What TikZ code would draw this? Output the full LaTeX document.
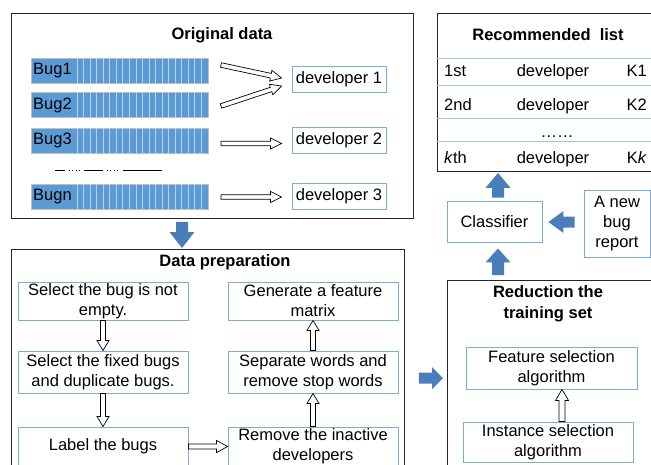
\documentclass[tikz,border=0pt]{standalone}
\usepackage{fontspec}
\setmainfont{Liberation Sans}
\usetikzlibrary{calc}
\definecolor{bugblue}{HTML}{5B9BD5}
\definecolor{stripecol}{HTML}{B8D1EC}
\definecolor{buggrey}{HTML}{BFBFBF}
\definecolor{boxblue}{HTML}{7FAADC}
\definecolor{arrowblue}{HTML}{4A7EBB}
\definecolor{sepblue}{HTML}{9DC3E6}
\definecolor{framecol}{HTML}{262626}
\tikzset{
  every node/.style={font=\fontsize{16.5}{20}\selectfont, inner sep=0pt},
  group/.style={draw=framecol, line width=0.9pt},
  title/.style={font=\fontsize{16.5}{21}\selectfont\bfseries, align=center},
  bbox/.style={draw=boxblue, line width=0.9pt, fill=white, align=center},
  bugcell/.style={draw=buggrey, line width=1pt, fill=bugblue, minimum width=177pt, minimum height=25pt},
  stripe/.style={draw=stripecol, line width=0.9pt},
  harrow/.style n args={3}{to path={
    let \p1=(\tikztostart), \p2=(\tikztotarget),
        \n1={atan2(\y2-(\y1),\x2-(\x1))}, \n2={veclen(\x2-(\x1),\y2-(\y1))}
    in [shift={(\p1)}, rotate=\n1]
    (0pt,-#1pt) -- ({\n2*1pt-#3pt},-#1pt) -- ({\n2*1pt-#3pt},-#2pt) -- ({\n2*1pt},0pt)
    -- ({\n2*1pt-#3pt},#2pt) -- ({\n2*1pt-#3pt},#1pt) -- (0pt,#1pt) -- cycle
  }},
  hollow/.style={draw=black, line width=0.7pt, fill=white},
  blockarrow/.style={fill=arrowblue, draw=none},
}
\begin{document}
\begin{tikzpicture}[x=1pt, y=-1pt]
\useasboundingbox (0,0) rectangle (651,464);

% ---------- Original data ----------
\node[group, minimum width=402pt, minimum height=205pt, anchor=north west] (orig) at (11,13) {};
\node[title] (origtitle) at (222,35) {Original data};
\foreach \n/\yy/\lab in {b1/70.5/Bug1, b2/105/Bug2, b3/140.5/Bug3, b4/196.5/Bugn}{
  \node[bugcell, anchor=west] (\n) at (31,\yy) {};
  \node[anchor=west] (\n l) at ([xshift=2pt]\n.west) {\lab};
  \foreach \k in {0,...,19}{
    \draw[stripe] ($(\n.north west)+(46+\k*6.55,0.5)$) -- ($(\n.south west)+(46+\k*6.55,-0.5)$);
  }
}
% broken line
\draw[line width=0.9pt] (55,170) -- (65,170) (84,170) -- (103,170) (123,170) -- (162,170);
\foreach \xx in {68.5,72,75.5,79,106.5,110,113.5,117}{
  \draw[line width=0.9pt] (\xx,170) -- ++(1,0);
}
\node[bbox, minimum width=94pt, minimum height=26pt] (d1) at (339,79) {developer 1};
\node[bbox, minimum width=94pt, minimum height=26pt] (d2) at (339,140) {developer 2};
\node[bbox, minimum width=94pt, minimum height=26pt] (d3) at (339,196) {developer 3};
\draw[hollow] ($(b1.east)+(12,-5.5)$) to[harrow={2.3}{5.5}{11}] ($(d1.west)+(-10,-1)$);
\draw[hollow] ($(b2.east)+(12,1)$) to[harrow={2.3}{5.5}{11}] ($(d1.west)+(-10,7)$);
\draw[hollow] ($(b3.east)+(12,3)$) to[harrow={2.3}{5.5}{11}] ($(d2.west)+(-10,3.5)$);
\draw[hollow] ($(b4.east)+(12,0.5)$) to[harrow={2.3}{5.5}{11}] ($(d3.west)+(-10,1)$);

% ---------- Data preparation ----------
\node[group, minimum width=393pt, minimum height=240pt, anchor=north west] (prep) at (11,249) {};
\node[title] (preptitle) at (225,262) {Data preparation};
\node[bbox, minimum width=170pt, minimum height=38pt] (p1) at (103,301) {Select the bug is not\\empty.};
\node[bbox, minimum width=170pt, minimum height=42pt] (p2) at (103,372) {Select the fixed bugs\\and duplicate bugs.};
\node[bbox, minimum width=170pt, minimum height=39pt] (p3) at (103,446.5) {Label the bugs};
\node[bbox, minimum width=170pt, minimum height=38pt] (p4) at (313,301) {Generate a feature\\matrix};
\node[bbox, minimum width=170pt, minimum height=42pt] (p5) at (313,372) {Separate words and\\remove stop words};
\node[bbox, minimum width=170pt, minimum height=39pt] (p6) at (313,446.5) {Remove the inactive\\developers};
\draw[hollow] (p1.south) to[harrow={2.5}{6}{10}] (p2.north);
\draw[hollow] (p2.south) to[harrow={2.5}{6}{10}] (p3.north);
\draw[hollow] (p3.east) to[harrow={2.5}{6}{11}] (p6.west);
\draw[hollow] (p6.north) to[harrow={2.5}{6}{10}] (p5.south);
\draw[hollow] (p5.north) to[harrow={2.5}{6}{10}] (p4.south);

% ---------- Recommended list ----------
\node[group, minimum width=230pt, minimum height=158pt, anchor=north west] (list) at (437,13) {};
\node[title] (listtitle) at (548,35) {Recommended\ \ list};
\foreach \yy in {58,85,118,141}{
  \draw[sepblue, line width=1pt] (list.west |- 0,\yy) -- ++(220,0);
}
\node[anchor=base west] (r1a) at (444,76) {1st};
\node[anchor=base] (r1b) at (553,76) {developer};
\node[anchor=base east] (r1c) at (647,76) {K1};
\node[anchor=base west] (r2a) at (444,110) {2nd};
\node[anchor=base] (r2b) at (553,110) {developer};
\node[anchor=base east] (r2c) at (647,110) {K2};
\node[anchor=base] (r3b) at (557,137) {……};
\node[anchor=base west] (r4a) at (444,163) {\textit{k}th};
\node[anchor=base] (r4b) at (553,163) {developer};
\node[anchor=base east] (r4c) at (647,163) {K\textit{k}};

% ---------- Classifier and new bug report ----------
\node[bbox, minimum width=95pt, minimum height=41pt] (cls) at (494.5,221.5) {Classifier};
\node[bbox, minimum width=66pt, minimum height=67pt] (nb) at (617,223.5) {A new\\bug\\report};

% ---------- Reduction the training set ----------
\node[group, minimum width=215pt, minimum height=200pt, anchor=north west] (red) at (447,280) {};
\node[title] (redtitle) at (548,303.5) {Reduction the\\training set};
\node[bbox, minimum width=171pt, minimum height=42pt] (feat) at (551.5,368) {Feature selection\\algorithm};
\node[bbox, minimum width=170pt, minimum height=40pt] (inst) at (548,442) {Instance selection\\algorithm};
\draw[hollow] ($(inst.north)+(14,0)$) to[harrow={3}{6.5}{11}] ($(feat.south)+(10.5,0)$);

% ---------- Blue block arrows ----------
\path[blockarrow] ($(orig.south west)+(171,3)$) to[harrow={6}{12.5}{16}] ($(prep.north west)+(171,-1)$);
\path[blockarrow] ($(prep.north east)+(14,129)$) to[harrow={5.5}{11}{11}] ($(red.north west)+(-4,98)$);
\path[blockarrow] ($(cls.north)+(3.5,-3)$) to[harrow={6}{12.5}{15}] ($(cls.north |- list.south)+(3.5,1)$);
\path[blockarrow] ($(nb.west)+(-9,-1.5)$) to[harrow={5.5}{11}{15}] ($(cls.east)+(6,0.5)$);
\path[blockarrow] ($(cls.south |- red.north)+(3.5,-5)$) to[harrow={6}{12.5}{14}] ($(cls.south)+(3.5,6)$);
\end{tikzpicture}
\end{document}
